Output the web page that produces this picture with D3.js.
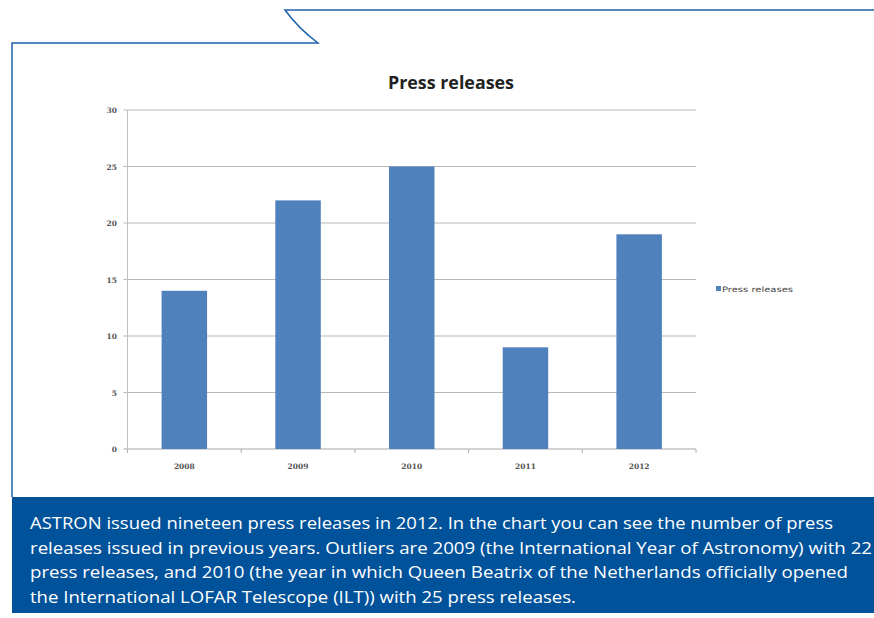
<!DOCTYPE html>
<html><head><meta charset="utf-8">
<script src="https://cdn.jsdelivr.net/npm/d3@7"></script>
<style>html,body{margin:0;padding:0;background:#fff;}svg{display:block;}</style>
</head><body>
<svg id="c" width="874" height="618"></svg>
<script>
const categories = ["2008","2009","2010","2011","2012"];
const values = [14, 22, 25, 9, 19];
const yTicks = [0,5,10,15,20,25,30];
const title = "Press releases";
const seriesName = "Press releases";
const captionLines = [
  "ASTRON issued nineteen press releases in 2012. In the chart you can see the number of press",
  "releases issued in previous years. Outliers are 2009 (the International Year of Astronomy) with 22",
  "press releases, and 2010 (the year in which Queen Beatrix of the Netherlands officially opened",
  "the International LOFAR Telescope (ILT)) with 25 press releases."
];
const captionWidths = [803, 842, 818, 546];

const svg = d3.select("#c");
const frameColor = "#1f62ab";

// frame
svg.append("path")
  .attr("d", "M12,497 L12,43 L318,43 Q298,28 285,10 L874,10")
  .attr("fill","none").attr("stroke",frameColor).attr("stroke-width",1.5);

// caption box
svg.append("rect").attr("x",12).attr("y",497).attr("width",862).attr("height",116).attr("fill","#00529b");
captionLines.forEach((t,i)=>{
  svg.append("text").attr("x",30).attr("y",529 + i*24.6)
    .attr("fill","#fff").attr("font-family","'Open Sans', sans-serif").attr("font-size",16.5)
    .attr("textLength",captionWidths[i]).attr("lengthAdjust","spacingAndGlyphs")
    .text(t);
});

// chart
const x0 = 127.5, x1 = 696;
const x = d3.scaleBand().domain(categories).range([x0,x1]).paddingInner(0.6).paddingOuter(0.3);
const y = d3.scaleLinear().domain([0,30]).range([449,110]);

const g = svg.append("g");
// gridlines
g.selectAll("line.grid").data(yTicks).join("line")
  .attr("x1",x0-4).attr("x2",x1).attr("y1",d=>y(d)).attr("y2",d=>y(d))
  .attr("stroke",d=>d===0?"#a8a8a8":"#b8b8b8").attr("stroke-width",1.2);
// y axis
g.append("line").attr("x1",x0).attr("x2",x0).attr("y1",y(30)).attr("y2",y(0)).attr("stroke","#c0c0c0").attr("stroke-width",1);
// bars
g.selectAll("rect.bar").data(values).join("rect")
  .attr("x",(d,i)=>x(categories[i])).attr("width",x.bandwidth())
  .attr("y",d=>y(d)).attr("height",d=>y(0)-y(d)).attr("fill","#4f81bd");
// category ticks
const step = x.step();
d3.range(categories.length+1).forEach(i=>{
  const xx = x0 + i*step;
  g.append("line").attr("x1",xx).attr("x2",xx).attr("y1",449).attr("y2",453).attr("stroke","#b0b0b0");
});
// y labels
g.selectAll("text.yl").data(yTicks).join("text")
  .attr("x",117).attr("y",d=>y(d)+3).attr("text-anchor","end")
  .attr("font-family","'DejaVu Serif', serif").attr("font-size",7.5).attr("fill","#555").attr("font-weight","bold")
  .text(d=>d);
// x labels
g.selectAll("text.xl").data(categories).join("text")
  .attr("x",d=>x(d)+x.bandwidth()/2).attr("y",469).attr("text-anchor","middle")
  .attr("font-family","'DejaVu Serif', serif").attr("font-size",7.5).attr("fill","#555").attr("font-weight","bold")
  .text(d=>d);
// title
svg.append("text").attr("x",451).attr("y",89).attr("text-anchor","middle")
  .attr("font-family","'Liberation Sans Narrow','Open Sans',sans-serif").attr("font-weight","bold").attr("font-size",18)
  .attr("fill","#222").attr("textLength",126).attr("lengthAdjust","spacingAndGlyphs").text(title);
// legend
svg.append("rect").attr("x",716).attr("y",286).attr("width",5).attr("height",5).attr("fill","#4f81bd");
svg.append("text").attr("x",722).attr("y",291.5).attr("font-family","'DejaVu Sans',sans-serif").attr("font-size",7.5)
  .attr("fill","#444").attr("textLength",71).attr("lengthAdjust","spacingAndGlyphs").text(seriesName);
</script>
</body></html>
